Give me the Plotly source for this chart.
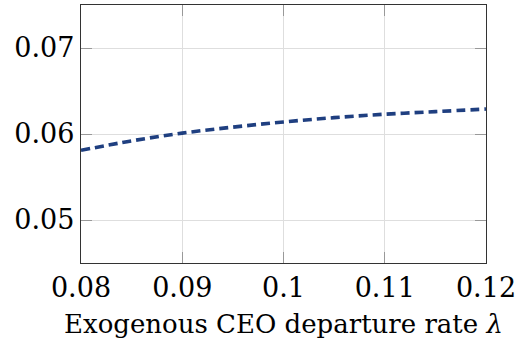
import plotly.graph_objects as go

x_vals = [0.08, 0.085, 0.09, 0.095, 0.10, 0.105, 0.11, 0.115, 0.12]
y_vals = [0.0581, 0.0592, 0.0601, 0.0608, 0.0614, 0.0619, 0.0623, 0.0626, 0.0629]
x_ticks = [0.08, 0.09, 0.10, 0.11, 0.12]
x_ticktext = ["0.08", "0.09", "0.1", "0.11", "0.12"]
y_ticks = [0.05, 0.06, 0.07]
y_ticktext = ["0.05", "0.06", "0.07"]
x_title = "Exogenous CEO departure rate <i>λ</i>"

tick_font = dict(family="DejaVu Serif", size=27, color="black")
title_font = dict(family="DejaVu Serif", size=26, color="black")

fig = go.Figure()
fig.add_trace(go.Scatter(x=x_vals, y=y_vals, mode="lines", line_shape="spline",
                         line=dict(color="#1f3f80", width=3.6, dash="9px,5px"),
                         showlegend=False))

axis_common = dict(showgrid=True, gridcolor="#dedede", gridwidth=1,
                   showline=True, linecolor="#333333", linewidth=1.3, mirror="ticks",
                   ticks="inside", ticklen=11, tickcolor="#999999", tickwidth=1.3,
                   zeroline=False, tickfont=tick_font, automargin=False)

fig.update_xaxes(range=[0.08, 0.12], tickvals=x_ticks, ticktext=x_ticktext,
                 title=dict(text=x_title, font=title_font, standoff=13), **axis_common)
fig.update_yaxes(range=[0.045, 0.075], tickvals=y_ticks, ticktext=y_ticktext, **axis_common)

fig.update_layout(width=519, height=351, margin=dict(l=81, r=33, t=5, b=88),
                  plot_bgcolor="white", paper_bgcolor="white", font=title_font)

fig.write_html("out.html")
